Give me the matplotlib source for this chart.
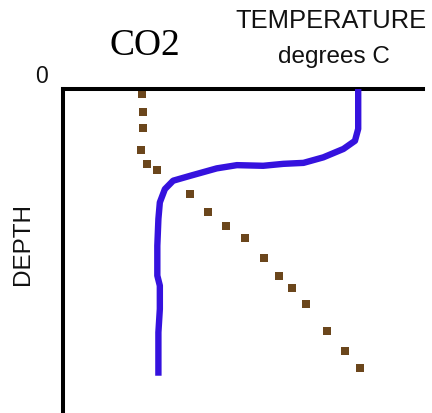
"""Depth profiles of CO2 and temperature in the water column."""

import matplotlib

matplotlib.use("Agg")
import matplotlib.pyplot as plt

# CO2 samples: horizontal position (relative units) against depth (0-100)
co2_value = [21.9, 22.1, 22.1, 21.7, 23.4, 26.2, 35.3, 40.2, 45.3, 50.6,
             55.8, 60.1, 63.7, 67.4, 73.3, 78.3, 82.5]
co2_depth = [1.5, 7.0, 12.1, 18.7, 23.1, 24.9, 32.4, 38.1, 42.4, 46.1,
             52.3, 57.8, 61.5, 66.5, 74.6, 80.8, 86.2]

# Temperature profile, same axes
temp_value = [82.0, 82.0, 81.1, 77.9, 72.3, 66.8, 61.2, 55.6, 48.3, 42.7,
              35.3, 30.6, 28.3, 26.9, 26.5, 26.2, 26.2, 26.9, 26.9, 26.5, 26.5]
temp_depth = [0.0, 12.3, 16.0, 18.5, 21.1, 22.8, 23.1, 23.7, 23.5, 24.5,
              26.8, 28.3, 30.9, 35.0, 40.1, 48.4, 57.6, 60.7, 67.9, 75.1, 88.5]

W, H = 432, 414
fig = plt.figure(figsize=(W / 100, H / 100), dpi=100)
fig.patch.set_facecolor("white")

# axes box in pixel terms: left 63, right 423, top 90, open at the bottom
ax = fig.add_axes([63 / W, 0, (423 - 63) / W, (H - 90) / H])
ax.set_xlim(0, 100)
ax.set_ylim(100, 0)
for side in ("right", "bottom"):
    ax.spines[side].set_visible(False)
for side in ("left", "top"):
    ax.spines[side].set_linewidth(2.9)
    ax.spines[side].set_color("black")
    ax.spines[side].set_capstyle("projecting")
ax.set_xticks([])
ax.set_yticks([])

ax.plot(temp_value, temp_depth, color="#3512de", linewidth=4.6,
        solid_joinstyle="round", solid_capstyle="butt", zorder=3)
ax.plot(co2_value, co2_depth, linestyle="none", marker="s", markersize=5.8,
        color="#6b461c", markeredgewidth=0, zorder=2)

sans = "Liberation Sans"
fig.text(144.5 / W, 1 - 46 / H, "CO2", family="Liberation Serif",
         fontsize=27, ha="center", va="center")
fig.text(331 / W, 1 - 21 / H, "TEMPERATURE", family=sans, fontsize=18.4,
         ha="center", va="center", color="#111111")
fig.text(334 / W, 1 - 62.7 / H, "degrees C", family=sans, fontsize=17.5,
         ha="center", va="baseline", color="#111111")
fig.text(41 / W, 1 - 76.7 / H, "0", family=sans, fontsize=16.5,
         ha="center", va="center", color="#111111")
fig.text(23 / W, 1 - 244 / H, "DEPTH", family=sans, fontsize=17.5,
         ha="center", va="center", rotation=90, color="#111111")

fig.savefig("out.png", dpi=100, facecolor="white")
